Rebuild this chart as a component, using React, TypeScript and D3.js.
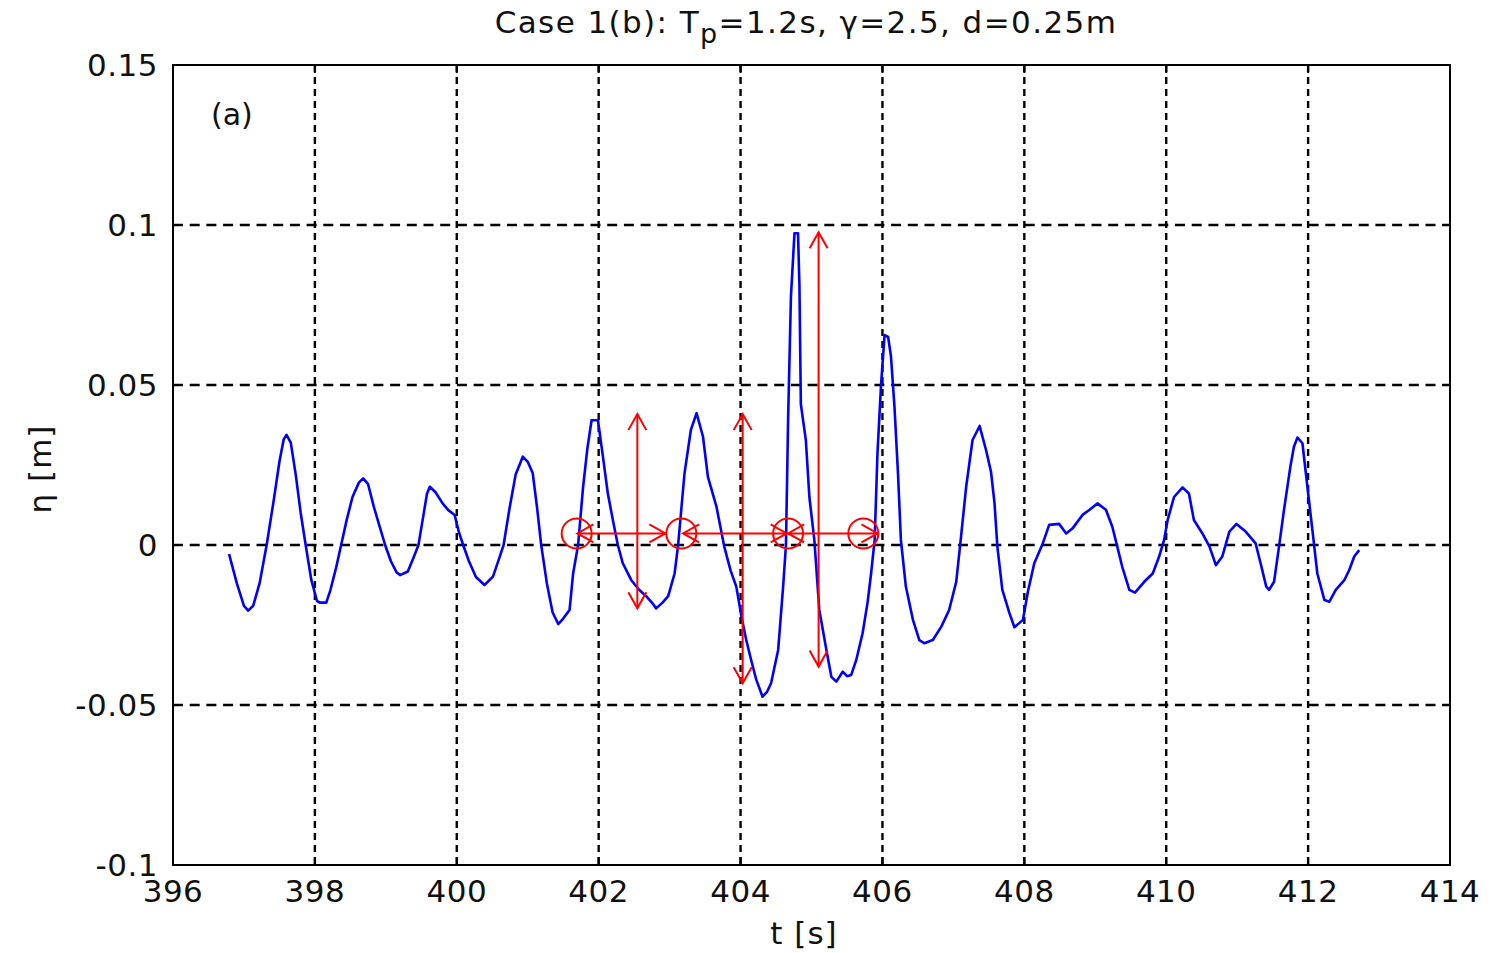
import React from "react";
import * as d3 from "d3";

// ---------- data ----------
const timeS: number[] = [
  396.79, 396.9, 397.0, 397.06, 397.13, 397.22, 397.32, 397.42, 397.5, 397.56, 397.6, 397.66, 397.73, 397.8, 397.87,
  397.95, 398.03, 398.07, 398.16, 398.22, 398.3, 398.37, 398.45, 398.53, 398.62, 398.68, 398.75, 398.83, 398.91, 398.99,
  399.07, 399.15, 399.2, 399.31, 399.39, 399.46, 399.52, 399.58, 399.62, 399.7, 399.8, 399.88, 399.97, 400.03, 400.09,
  400.17, 400.27, 400.39, 400.51, 400.6, 400.66, 400.74, 400.83, 400.93, 401.0, 401.07, 401.13, 401.19, 401.27, 401.35,
  401.43, 401.5, 401.59, 401.64, 401.71, 401.78, 401.84, 401.9, 401.99, 402.06, 402.13, 402.2, 402.27, 402.34, 402.46,
  402.57, 402.67, 402.75, 402.81, 402.9, 402.98, 403.07, 403.12, 403.21, 403.3, 403.38, 403.47, 403.54, 403.66, 403.77,
  403.86, 403.94, 404.01, 404.08, 404.15, 404.22, 404.31, 404.37, 404.43, 404.53, 404.6, 404.64, 404.67, 404.71, 404.76,
  404.81, 404.83, 404.85, 404.92, 404.97, 405.04, 405.11, 405.21, 405.28, 405.35, 405.44, 405.5, 405.56, 405.63, 405.72,
  405.79, 405.84, 405.89, 405.93, 405.98, 406.03, 406.08, 406.12, 406.17, 406.22, 406.26, 406.33, 406.43, 406.52, 406.59,
  406.71, 406.83, 406.94, 407.04, 407.11, 407.18, 407.27, 407.37, 407.46, 407.53, 407.58, 407.62, 407.69, 407.79, 407.86,
  407.98, 408.05, 408.14, 408.26, 408.35, 408.49, 408.59, 408.68, 408.82, 408.92, 409.03, 409.15, 409.24, 409.31, 409.38,
  409.48, 409.56, 409.69, 409.81, 409.9, 409.97, 410.02, 410.11, 410.23, 410.32, 410.39, 410.51, 410.61, 410.7, 410.79,
  410.89, 410.99, 411.12, 411.26, 411.33, 411.41, 411.45, 411.52, 411.59, 411.66, 411.75, 411.8, 411.85, 411.92, 411.99,
  412.06, 412.13, 412.23, 412.3, 412.39, 412.51, 412.58, 412.65, 412.72,
];
const etaM: number[] = [
  -0.0028, -0.012, -0.019, -0.0205, -0.019, -0.012, 0.0, 0.014, 0.026, 0.033, 0.0344, 0.032, 0.022, 0.01, 0.0,
  -0.011, -0.0175, -0.018, -0.018, -0.014, -0.007, 0.0, 0.008, 0.015, 0.0195, 0.0208, 0.019, 0.012, 0.006, 0.0,
  -0.005, -0.0085, -0.0094, -0.0083, -0.004, 0.0, 0.008, 0.016, 0.0182, 0.0165, 0.013, 0.0109, 0.0094, 0.004, 0.0,
  -0.005, -0.01, -0.0125, -0.0099, -0.004, 0.0, 0.011, 0.022, 0.0276, 0.026, 0.0225, 0.012, 0.0, -0.012, -0.021,
  -0.0247, -0.023, -0.0203, -0.0089, 0.0, 0.018, 0.03, 0.039, 0.039, 0.0276, 0.016, 0.0078, 0.0, -0.0057, -0.011,
  -0.014, -0.016, -0.018, -0.0198, -0.018, -0.016, -0.0089, 0.0, 0.0224, 0.036, 0.0412, 0.0339, 0.0213, 0.012, -0.0005,
  -0.008, -0.013, -0.022, -0.0297, -0.036, -0.042, -0.0474, -0.046, -0.0432, -0.0328, -0.013, 0.0, 0.039, 0.0776, 0.0974,
  0.0974, 0.081, 0.044, 0.0328, 0.015, 0.0016, -0.0203, -0.0328, -0.0412, -0.0427, -0.0396, -0.041, -0.0406, -0.036, -0.0276,
  -0.018, -0.0089, 0.0016, 0.0287, 0.05, 0.0656, 0.065, 0.059, 0.043, 0.022, 0.0016, -0.013, -0.0234, -0.0297, -0.0307,
  -0.0297, -0.0255, -0.0203, -0.0115, 0.0031, 0.0182, 0.0328, 0.0372, 0.0297, 0.0229, 0.013, -0.0005, -0.014, -0.0213, -0.0257,
  -0.0234, -0.0146, -0.0057, 0.0005, 0.0063, 0.0066, 0.0036, 0.0052, 0.0094, 0.011, 0.013, 0.011, 0.0057, -0.0005, -0.0068,
  -0.014, -0.0149, -0.0115, -0.0089, -0.0036, 0.0016, 0.0078, 0.015, 0.018, 0.0161, 0.0078, 0.0036, -0.0005, -0.0063, -0.0036,
  0.0042, 0.0066, 0.0042, 0.0005, -0.0057, -0.013, -0.014, -0.0115, -0.0005, 0.011, 0.0245, 0.0307, 0.0336, 0.0318, 0.0182,
  0.0047, -0.0089, -0.0172, -0.0177, -0.014, -0.011, -0.0078, -0.0036, -0.0016,
];

const xTicks: number[] = [396, 398, 400, 402, 404, 406, 408, 410, 412, 414];
const yTicks: number[] = [-0.1, -0.05, 0, 0.05, 0.1, 0.15];
const yTickLabels: string[] = ["-0.1", "-0.05", "0", "0.05", "0.1", "0.15"];

// annotations (zero crossings, wave periods and heights)
const circleT: number[] = [401.69, 403.165, 404.67, 405.73];
const circleEta = 0.0036;
const hArrowStart: number[] = [401.7, 403.19, 404.67];
const hArrowEnd: number[] = [402.94, 404.65, 405.93];
const vArrowT: number[] = [402.545, 404.03, 405.1];
const vArrowTop: number[] = [0.0409, 0.0409, 0.0977];
const vArrowBottom: number[] = [-0.0198, -0.0432, -0.038];

// ---------- layout ----------
const W = 1493;
const H = 953;
const L = 173, R = 1450, T = 65, B = 865;
const FONT = "'DejaVu Sans', 'Liberation Sans', Arial, sans-serif";

export default function App() {
  const x = d3.scaleLinear().domain([396, 414]).range([L, R]);
  const y = d3.scaleLinear().domain([-0.1, 0.15]).range([B, T]);

  const pts: [number, number][] = timeS.map((t, i) => [t, etaM[i]]);
  const line = d3
    .line<[number, number]>()
    .x((d) => x(d[0]))
    .y((d) => y(d[1]));

  const red = "#ff0000";
  const headLen = 16;
  const headHalf = 9;

  const arrowHead = (tx: number, ty: number, dx: number, dy: number, key: string) => {
    const bx = tx - dx * headLen;
    const by = ty - dy * headLen;
    const px = -dy * headHalf;
    const py = dx * headHalf;
    return (
      <polyline
        key={key}
        points={`${bx + px},${by + py} ${tx},${ty} ${bx - px},${by - py}`}
        fill="none"
        stroke={red}
        strokeWidth={2}
      />
    );
  };

  return (
    <svg
      width={W}
      height={H}
      style={{ position: "absolute", left: 0, top: 0, background: "#fff" }}
      fontFamily={FONT}
    >
      <rect x={0} y={0} width={W} height={H} fill="#fff" />

      {/* grid */}
      {xTicks
        .filter((t) => t > 396 && t < 414)
        .map((t) => (
          <line
            key={"gx" + t}
            x1={x(t)}
            x2={x(t)}
            y1={T}
            y2={B}
            stroke="#000"
            strokeWidth={2.4}
            strokeDasharray="7,5"
          />
        ))}
      {yTicks
        .filter((v) => v > -0.1 && v < 0.15)
        .map((v) => (
          <line
            key={"gy" + v}
            x1={L}
            x2={R}
            y1={y(v)}
            y2={y(v)}
            stroke="#000"
            strokeWidth={2.4}
            strokeDasharray="10,6.7"
          />
        ))}

      {/* ticks */}
      {xTicks.map((t) => (
        <g key={"tx" + t}>
          <line x1={x(t)} x2={x(t)} y1={B} y2={B - 8} stroke="#000" strokeWidth={2} />
          <line x1={x(t)} x2={x(t)} y1={T} y2={T + 8} stroke="#000" strokeWidth={2} />
        </g>
      ))}
      {yTicks.map((v) => (
        <g key={"ty" + v}>
          <line x1={L} x2={L + 8} y1={y(v)} y2={y(v)} stroke="#000" strokeWidth={2} />
          <line x1={R} x2={R - 8} y1={y(v)} y2={y(v)} stroke="#000" strokeWidth={2} />
        </g>
      ))}

      {/* data line */}
      <path d={line(pts) || ""} fill="none" stroke="#0000ff" strokeWidth={2.6} strokeLinejoin="round" />

      {/* annotations */}
      <g>
        {circleT.map((t, i) => (
          <circle key={"c" + i} cx={x(t)} cy={y(circleEta)} r={15} fill="none" stroke={red} strokeWidth={2} />
        ))}
        {hArrowStart.map((t0, i) => {
          const x0 = x(t0);
          const x1 = x(hArrowEnd[i]);
          const yy = y(circleEta);
          return (
            <g key={"h" + i}>
              <line x1={x0} x2={x1} y1={yy} y2={yy} stroke={red} strokeWidth={2} />
              {arrowHead(x0, yy, -1, 0, "hl" + i)}
              {arrowHead(x1, yy, 1, 0, "hr" + i)}
            </g>
          );
        })}
        {vArrowT.map((t, i) => {
          const xx = x(t);
          const y0 = y(vArrowTop[i]);
          const y1 = y(vArrowBottom[i]);
          return (
            <g key={"v" + i}>
              <line x1={xx} x2={xx} y1={y0} y2={y1} stroke={red} strokeWidth={2} />
              {arrowHead(xx, y0, 0, -1, "vt" + i)}
              {arrowHead(xx, y1, 0, 1, "vb" + i)}
            </g>
          );
        })}
      </g>

      {/* frame */}
      <rect x={L} y={T} width={R - L} height={B - T} fill="none" stroke="#000" strokeWidth={2} />

      {/* tick labels */}
      {xTicks.map((t) => (
        <text key={"lx" + t} x={x(t)} y={902} textAnchor="middle" fontSize={31} letterSpacing={0.5} fill="#111">
          {t}
        </text>
      ))}
      {yTicks.map((v, i) => (
        <text key={"ly" + v} x={158} y={y(v) + 11} textAnchor="end" fontSize={31} letterSpacing={0.5} fill="#111">
          {yTickLabels[i]}
        </text>
      ))}

      {/* axis labels */}
      <text x={804} y={944} textAnchor="middle" fontSize={31} letterSpacing={1} fill="#111">
        t [s]
      </text>
      <text
        transform={`translate(51,469) rotate(-90)`}
        textAnchor="middle"
        fontSize={31}
        letterSpacing={1}
        fill="#111"
      >
        η [m]
      </text>

      {/* title */}
      <text x={806} y={33} textAnchor="middle" fontSize={31} letterSpacing={1.4} fill="#111">
        <tspan>Case 1(b): T</tspan>
        <tspan dy={10} fontSize={27}>p</tspan>
        <tspan dy={-10}>=1.2s, γ=2.5, d=0.25m</tspan>
      </text>

      {/* panel label */}
      <text x={211} y={125} fontSize={30} fill="#111">
        (a)
      </text>
    </svg>
  );
}
